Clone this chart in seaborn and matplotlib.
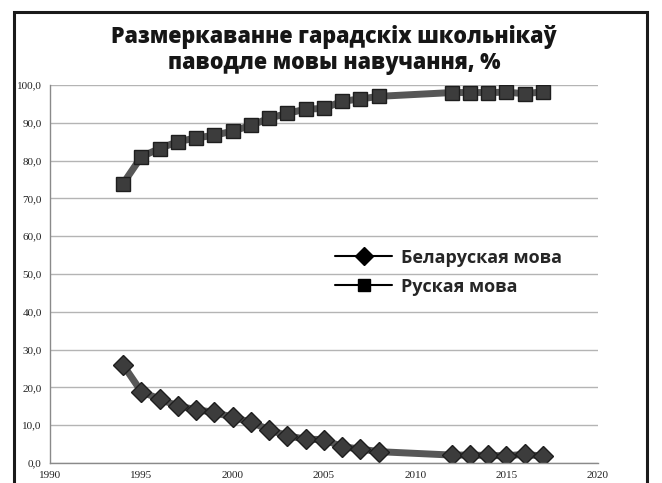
import matplotlib
matplotlib.use("Agg")
import matplotlib.pyplot as plt
import matplotlib.patches as mpatches
from matplotlib.lines import Line2D
from matplotlib.ticker import FuncFormatter
import seaborn as sns
import pandas as pd

years = [1994, 1995, 1996, 1997, 1998, 1999, 2000, 2001, 2002, 2003, 2004,
         2005, 2006, 2007, 2008, 2012, 2013, 2014, 2015, 2016, 2017]
belarusian = [26.0, 18.9, 16.9, 15.1, 14.1, 13.4, 12.1, 10.8, 8.8, 7.2, 6.3,
              6.2, 4.3, 3.7, 3.0, 2.1, 2.1, 2.0, 1.9, 2.3, 1.8]
russian = [73.9, 81.0, 83.2, 85.0, 86.0, 86.7, 87.8, 89.3, 91.2, 92.5, 93.6,
           93.8, 95.7, 96.3, 97.0, 98.0, 98.0, 98.0, 98.1, 97.7, 98.2]
series_names = ["Беларуская мова", "Руская мова"]
title = "Размеркаванне гарадскіх школьнікаў\nпаводле мовы навучання, %"

df = pd.DataFrame({
    "year": years * 2,
    "value": belarusian + russian,
    "lang": [series_names[0]] * len(years) + [series_names[1]] * len(years),
})

sns.set_theme(style="white")
fig = plt.figure(figsize=(6.62, 4.83), dpi=100)
ax = fig.add_axes([0.0755, 0.0414, 0.8275, 0.7826])

sns.lineplot(data=df, x="year", y="value", hue="lang", style="lang",
             markers={series_names[0]: "D", series_names[1]: "s"},
             dashes=False, palette=["#575757", "#575757"], linewidth=5,
             markersize=10, markerfacecolor="#3c3c3c", markeredgecolor="#1e1e1e",
             markeredgewidth=1.0, legend=False, ax=ax)

ax.set_xlim(1990, 2020)
ax.set_ylim(0, 100)
ax.set_xticks(range(1990, 2021, 5))
ax.set_yticks(range(0, 101, 10))
ax.yaxis.set_major_formatter(FuncFormatter(lambda v, p: f"{v:.1f}".replace(".", ",")))
ax.set_xlabel("")
ax.set_ylabel("")
ax.grid(axis="y", color="#b4b4b4", linewidth=1.0)
ax.set_axisbelow(True)
for s in ["top", "right"]:
    ax.spines[s].set_visible(False)
for s in ["left", "bottom"]:
    ax.spines[s].set_color("#8a8a8a")
    ax.spines[s].set_linewidth(1.0)
ax.tick_params(axis="both", labelsize=8, colors="#8a8a8a", labelcolor="#222222",
               length=4, width=1, direction="out", pad=2)
for lab in ax.get_xticklabels() + ax.get_yticklabels():
    lab.set_family("Liberation Serif")

handles = [
    Line2D([0], [0], color="black", lw=1.5, marker="D", markersize=9,
           markerfacecolor="black", markeredgecolor="black"),
    Line2D([0], [0], color="black", lw=1.5, marker="s", markersize=9,
           markerfacecolor="black", markeredgecolor="black"),
]
ax.legend(handles, series_names, loc="upper left", bbox_to_anchor=(0.49, 0.61),
          frameon=False, handlelength=3.2, handletextpad=0.5, labelspacing=0.6,
          prop={"family": "Open Sans", "weight": "bold", "size": 13})

fig.text(0.505, 0.896, title, ha="center", va="center", fontsize=15.5,
         fontweight="heavy", family="Open Sans", color="#161616", linespacing=1.1)

fig.patches.append(mpatches.Rectangle((14 / 662, -0.01), (647 - 14) / 662, 1 - 12 / 483 + 0.01,
                                      transform=fig.transFigure, fill=False,
                                      edgecolor="#1a1a1a", linewidth=2.2))

fig.savefig("out.png", dpi=100)
